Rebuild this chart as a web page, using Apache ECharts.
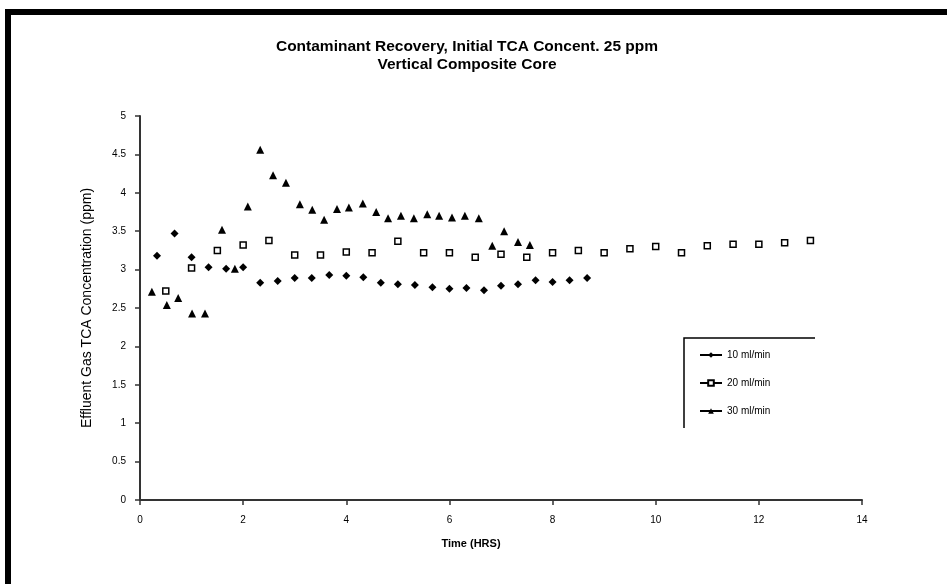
<!DOCTYPE html>
<html><head><meta charset="utf-8">
<script src="https://cdn.jsdelivr.net/npm/echarts@6/dist/echarts.min.js"></script>
<style>html,body{margin:0;padding:0;background:#fff}#c{width:947px;height:584px}</style>
</head><body><div id="c"></div>
<script>
var titleLines = ['Contaminant Recovery, Initial TCA Concent. 25 ppm', 'Vertical Composite Core'];
var xTitle = 'Time (HRS)';
var yTitle = 'Effluent Gas TCA Concentration (ppm)';
var seriesNames = ['10 ml/min', '20 ml/min', '30 ml/min'];

var t10 = [0.33,0.67,1.0,1.33,1.67,2.0,2.33,2.67,3.0,3.33,3.67,4.0,4.33,4.67,5.0,5.33,5.67,6.0,6.33,6.67,7.0,7.33,7.67,8.0,8.33,8.67];
var c10 = [3.18,3.47,3.16,3.03,3.01,3.03,2.83,2.85,2.89,2.89,2.93,2.92,2.90,2.83,2.81,2.80,2.77,2.75,2.76,2.73,2.79,2.81,2.86,2.84,2.86,2.89];

var t20 = [0.5,1.0,1.5,2.0,2.5,3.0,3.5,4.0,4.5,5.0,5.5,6.0,6.5,7.0,7.5,8.0,8.5,9.0,9.5,10.0,10.5,11.0,11.5,12.0,12.5,13.0];
var c20 = [2.72,3.02,3.25,3.32,3.38,3.19,3.19,3.23,3.22,3.37,3.22,3.22,3.16,3.20,3.16,3.22,3.25,3.22,3.27,3.30,3.22,3.31,3.33,3.33,3.35,3.38];

var t30 = [0.23,0.52,0.74,1.01,1.26,1.59,1.84,2.09,2.33,2.58,2.83,3.10,3.34,3.57,3.82,4.05,4.32,4.58,4.81,5.06,5.31,5.57,5.80,6.05,6.30,6.57,6.83,7.06,7.33,7.56];
var c30 = [2.71,2.54,2.63,2.43,2.43,3.52,3.01,3.82,4.56,4.23,4.13,3.85,3.78,3.65,3.79,3.81,3.86,3.75,3.67,3.70,3.67,3.72,3.70,3.68,3.70,3.67,3.31,3.50,3.36,3.32];

var xTicks = [0,2,4,6,8,10,12,14];
var yTicks = [0,0.5,1,1.5,2,2.5,3,3.5,4,4.5,5];

function pairs(t, c){ return t.map(function(v,i){ return [v, c[i]]; }); }

var FONT = 'Liberation Sans, Arial, sans-serif';
var chart = echarts.init(document.getElementById('c'), null, {renderer:'canvas'});
chart.setOption({
  backgroundColor:'#fff',
  animation:false,
  title:{
    text: titleLines.join('\n'),
    left: 462, top: 33, textAlign:'center',
    textStyle:{fontFamily:FONT, fontSize:15.5, fontWeight:'bold', color:'#000', lineHeight:18}
  },
  grid:{left:140, right:85, top:116, bottom:84},
  xAxis:{
    type:'value', min:0, max:14, interval:2,
    name:xTitle, nameLocation:'middle', nameGap:38,
    nameTextStyle:{fontFamily:FONT, fontSize:11, fontWeight:'bold', color:'#000', padding:[0,60,0,0]},
    axisLine:{lineStyle:{color:'#333', width:2}},
    axisTick:{show:true, length:5, lineStyle:{color:'#333', width:1.5}},
    axisLabel:{fontFamily:FONT, fontSize:10, color:'#000', margin:15},
    splitLine:{show:false}
  },
  yAxis:{
    type:'value', min:0, max:5, interval:0.5,
    name:yTitle, nameLocation:'middle', nameGap:46,
    nameTextStyle:{fontFamily:FONT, fontSize:14, fontWeight:'normal', color:'#000'},
    axisLine:{show:true, lineStyle:{color:'#333', width:2}},
    axisTick:{show:true, length:5, lineStyle:{color:'#333', width:1.5}},
    axisLabel:{fontFamily:FONT, fontSize:10, color:'#000', margin:14},
    splitLine:{show:false}
  },
  legend:{
    orient:'vertical', left:694, top:345, itemWidth:22, itemHeight:7, itemGap:18,
    textStyle:{fontFamily:FONT, fontSize:10, color:'#000'},
    lineStyle:{color:'#000', width:2, opacity:1},
    data:seriesNames
  },
  series:[
    {name:seriesNames[0], type:'line', data:pairs(t10,c10), symbol:'diamond', symbolSize:8,
     lineStyle:{width:0, opacity:0}, itemStyle:{color:'#000'}},
    {name:seriesNames[1], type:'line', data:pairs(t20,c20), symbol:'rect', symbolSize:6,
     lineStyle:{width:0, opacity:0}, itemStyle:{color:'#fff', borderColor:'#000', borderWidth:1.5}},
    {name:seriesNames[2], type:'line', data:pairs(t30,c30), symbol:'triangle', symbolSize:8,
     lineStyle:{width:0, opacity:0}, itemStyle:{color:'#000'}}
  ],
  graphic:[
    {type:'rect', shape:{x:5, y:9, width:942, height:6}, style:{fill:'#000'}},
    {type:'rect', shape:{x:5, y:9, width:6, height:575}, style:{fill:'#000'}},
    {type:'polyline', shape:{points:[[684,428],[684,338],[815,338]]}, style:{stroke:'#000', lineWidth:1.5, fill:null}}
  ]
});
</script></body></html>
